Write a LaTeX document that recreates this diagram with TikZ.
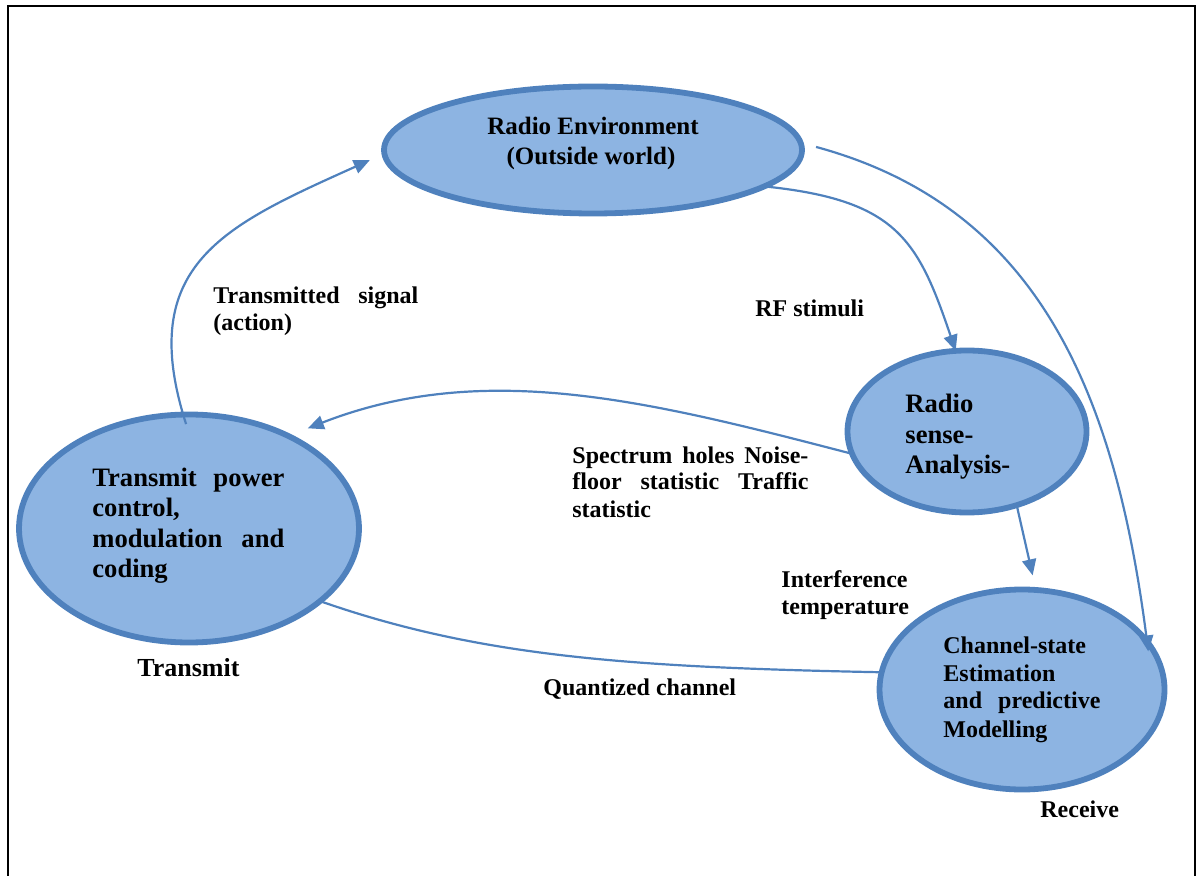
\documentclass[tikz,border=0pt]{standalone}
\usepackage{fontspec}
\setmainfont{Liberation Serif}
\usetikzlibrary{shapes.geometric,arrows.meta}
\definecolor{ellblue}{RGB}{79,129,189}
\definecolor{ellfill}{RGB}{141,180,226}
\begin{document}
\begin{tikzpicture}[x=0.5pt,y=-0.5pt]
\tikzset{
  ell/.style={ellipse, draw=ellblue, fill=ellfill, line width=2.9pt, inner sep=0pt, outer sep=0pt},
  conn/.style={draw=ellblue, line width=1.1pt},
  arr/.style={conn, -{Triangle[length=8pt,width=7pt]}},
  txt/.style={inner sep=0pt, anchor=base west, font=\bfseries\fontsize{12}{14}\selectfont},
  bigtxt/.style={txt, font=\bfseries\fontsize{13.3}{15}\selectfont},
}
\useasboundingbox (0,0) rectangle (1197,876);
\clip (0,0) rectangle (1197,876);

% outer frame (open at the bottom of the page)
\draw[line width=1.4pt] (8,890) -- (8,6) -- (1195,6) -- (1195,890);

% the four blocks of the cycle
\node[ell, minimum width=209pt, minimum height=63.5pt] (env) at (593,150) {};
\node[ell, minimum width=119.5pt, minimum height=81pt] (sense) at (967,431.5) {};
\node[ell, minimum width=170pt, minimum height=114pt] (tx) at (189,528.5) {};
\node[ell, minimum width=142.5pt, minimum height=100pt] (ch) at (1022,689.5) {};

% connectors
\draw[arr, shorten <=-5pt, shorten >=8pt] (tx.93) .. controls +(-48,-150) and +(-160,72) .. (env.181);
\draw[arr, shorten <=8pt, shorten >=-5pt] (env.2) .. controls +(236,64) and +(-32.5,-251.5) .. (ch.21);
\draw[arr] (env.-12) .. controls +(133,13.5) and +(-37.7,-111) .. (sense.98);
\draw[arr, shorten >=10.5pt] (sense.191) .. controls +(-200,-52) and +(197,-77) .. (tx.43);
\draw[arr, shorten >=7.5pt] (sense.-56) -- (ch.82);
\draw[conn] (tx.-29) .. controls +(160,56) and +(-250,-5) .. (ch.173.5);

% text inside the blocks
\node[txt, anchor=base, font=\bfseries\fontsize{12.5}{15}\selectfont] (envA) at (593,135) {Radio Environment};
\node[txt, anchor=base, font=\bfseries\fontsize{12.5}{15}\selectfont] (envB) at (591,165) {(Outside world)};

\node[bigtxt] (senseA) at (905,413) {Radio};
\node[bigtxt] (senseB) at (905,443) {sense-};
\node[bigtxt] (senseC) at (905,473) {Analysis-};

\node[bigtxt] (txA) at (92,486) {\makebox[96pt][s]{Transmit power}};
\node[bigtxt] (txB) at (92,516) {control,};
\node[bigtxt] (txC) at (92,547) {\makebox[96pt][s]{modulation and}};
\node[bigtxt] (txD) at (92,577) {coding};

\node[txt] (chA) at (943,653) {Channel-state};
\node[txt] (chB) at (943,681) {Estimation};
\node[txt] (chC) at (943,708) {\makebox[78.5pt][s]{and predictive}};
\node[txt] (chD) at (943,737) {Modelling};

% connector labels
\node[txt] (sigA) at (213,304) {\makebox[102.5pt][s]{Transmitted signal}};
\node[txt] (sigB) at (213,331) {(action)};
\node[txt] (rf) at (755,317) {RF stimuli};
\node[txt] (specA) at (572,463) {\makebox[118pt][s]{Spectrum holes Noise-}};
\node[txt] (specB) at (572,489) {\makebox[118pt][s]{floor statistic Traffic}};
\node[txt] (specC) at (572,517) {statistic};
\node[txt] (intA) at (781,587) {Interference};
\node[txt] (intB) at (781,614) {temperature};
\node[txt] (quant) at (543,695) {Quantized channel};

% side captions
\node[txt, font=\bfseries\fontsize{13}{15}\selectfont] (txcap) at (137,676) {Transmit};
\node[txt] (rxcap) at (1040,817) {Receive};
\end{tikzpicture}
\end{document}
